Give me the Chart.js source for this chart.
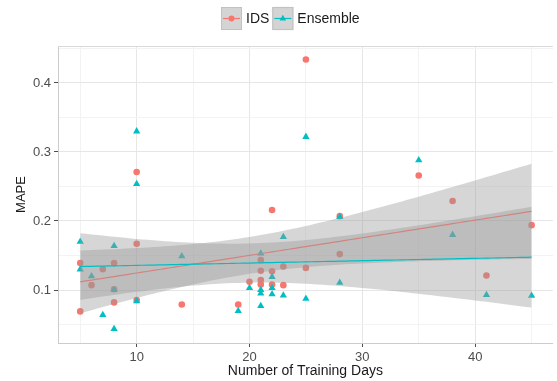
<!DOCTYPE html>
<html>
<head>
<meta charset="utf-8">
<script src="https://cdn.jsdelivr.net/npm/chart.js@4"></script>
<style>
  html, body { margin: 0; padding: 0; background: #fff; overflow: hidden; }
  #chart { display: block; }
</style>
</head>
<body>
<canvas id="chart" width="557" height="381"></canvas>
<script>
const SERIES = ['IDS', 'Ensemble'];
const DAYS = [5, 5, 6, 7, 8, 8, 8, 10, 10, 10, 14, 19, 20, 21, 21, 21, 21, 22, 22, 22, 23, 23, 25, 25, 28, 28, 35, 38, 41, 45];
const IDS_MAPE = [0.139, 0.069, 0.107, 0.130, 0.139, 0.101, 0.082, 0.271, 0.167, 0.0855, 0.079, 0.079, 0.112, 0.1435, 0.128, 0.1145, 0.108, 0.216, 0.127, 0.108, 0.134, 0.107, 0.434, 0.132, 0.207, 0.152, 0.266, 0.229, 0.121, 0.194];
const ENS_MAPE = [0.170, 0.130, 0.120, 0.064, 0.164, 0.100, 0.0435, 0.330, 0.2536, 0.084, 0.149, 0.0696, 0.103, 0.153, 0.100, 0.095, 0.077, 0.119, 0.103, 0.094, 0.177, 0.092, 0.322, 0.0874, 0.206, 0.1106, 0.288, 0.180, 0.093, 0.0917];
const X_TICKS = [5, 10, 15, 20, 25, 30, 35, 40, 45];
const Y_TICKS = [0.05, 0.1, 0.15, 0.2, 0.25, 0.3, 0.35, 0.4, 0.45];

const COLORS = { IDS: '#F8766D', Ensemble: '#00BFC4' };
const BAND = 'rgba(153,153,153,0.4)';
const FONT = '"Liberation Sans", Arial, Helvetica, sans-serif';
const T975 = 2.048; // t quantile, df = 28

// linear fit with 95% confidence band, like geom_smooth(method = "lm")
function lmBand(xs, ys) {
  const n = xs.length;
  const mx = xs.reduce((a, b) => a + b, 0) / n;
  const my = ys.reduce((a, b) => a + b, 0) / n;
  let sxx = 0, sxy = 0;
  xs.forEach((x, i) => { sxx += (x - mx) ** 2; sxy += (x - mx) * (ys[i] - my); });
  const b = sxy / sxx, a = my - b * mx;
  let sse = 0;
  xs.forEach((x, i) => { sse += (ys[i] - a - b * x) ** 2; });
  const s = Math.sqrt(sse / (n - 2));
  const lo = Math.min(...xs), hi = Math.max(...xs);
  const fit = [], upper = [], lower = [];
  for (let k = 0; k <= 80; k++) {
    const x = lo + (hi - lo) * k / 80;
    const y = a + b * x;
    const se = s * Math.sqrt(1 / n + (x - mx) ** 2 / sxx);
    fit.push({ x, y });
    upper.push({ x, y: y + T975 * se });
    lower.push({ x, y: y - T975 * se });
  }
  return { fit, upper, lower };
}

const idsFit = lmBand(DAYS, IDS_MAPE);
const ensFit = lmBand(DAYS, ENS_MAPE);
const pts = ys => DAYS.map((x, i) => ({ x, y: ys[i] }));

const lineDs = (data, color) => ({ data, showLine: true, borderColor: color, borderWidth: 1.2, pointRadius: 0, fill: false });
const bandDs = (data, fill) => ({ data, showLine: true, borderColor: 'transparent', borderWidth: 1, pointRadius: 0, backgroundColor: BAND, fill });

const isMajor = v => Math.abs(v * 10 - Math.round(v * 10)) < 1e-6 && Math.round(v * 100) % 10 === 0;

const ggLegend = {
  id: 'ggLegend',
  beforeDatasetsDraw(chart) {
    const { ctx, chartArea } = chart;
    ctx.save();
    ctx.strokeStyle = '#d9d9d9';
    ctx.lineWidth = 1;
    ctx.beginPath();
    ctx.moveTo(chartArea.left, chartArea.top + 0.5);
    ctx.lineTo(chartArea.right, chartArea.top + 0.5);
    ctx.stroke();
    ctx.restore();
  },
  afterDraw(chart) {
    const ctx = chart.ctx;
    ctx.save();
    ctx.font = '14px ' + FONT;
    ctx.textBaseline = 'middle';
    let x = 221;
    const y = 7, w = 21, h = 23, cy = y + h / 2;
    SERIES.forEach(name => {
      const c = COLORS[name];
      ctx.fillStyle = '#d4d4d4';
      ctx.fillRect(x, y, w, h);
      ctx.strokeStyle = '#c2c2c2';
      ctx.strokeRect(x + 0.5, y + 0.5, w - 1, h - 1);
      ctx.strokeStyle = c;
      ctx.lineWidth = 1.2;
      ctx.beginPath();
      ctx.moveTo(x + 2, cy);
      ctx.lineTo(x + w - 2, cy);
      ctx.stroke();
      ctx.fillStyle = c;
      ctx.beginPath();
      if (name === 'IDS') {
        ctx.arc(x + w / 2, cy, 3, 0, Math.PI * 2);
      } else {
        const r = 3.8;
        ctx.moveTo(x + w / 2, cy - r);
        ctx.lineTo(x + w / 2 + r * 0.866, cy + r / 2);
        ctx.lineTo(x + w / 2 - r * 0.866, cy + r / 2);
        ctx.closePath();
      }
      ctx.fill();
      ctx.fillStyle = '#1a1a1a';
      ctx.fillText(name, x + w + 4, cy + 0.5);
      x += w + 4 + ctx.measureText(name).width + 3;
    });
    ctx.restore();
  }
};

new Chart(document.getElementById('chart'), {
  type: 'scatter',
  data: {
    datasets: [
      lineDs(ensFit.fit, COLORS.Ensemble),
      bandDs(ensFit.upper, '+1'),
      bandDs(ensFit.lower, false),
      lineDs(idsFit.fit, COLORS.IDS),
      bandDs(idsFit.upper, '+1'),
      bandDs(idsFit.lower, false),
      { label: 'Ensemble', data: pts(ENS_MAPE), pointStyle: 'triangle', pointRadius: 4.2, borderWidth: 0, backgroundColor: COLORS.Ensemble },
      { label: 'IDS', data: pts(IDS_MAPE), pointStyle: 'circle', pointRadius: 3.3, borderWidth: 0, backgroundColor: COLORS.IDS },
    ]
  },
  options: {
    responsive: false,
    devicePixelRatio: 1,
    animation: false,
    events: [],
    layout: { padding: { top: 46, right: 0, bottom: 0, left: 0 } },
    plugins: { legend: { display: false }, tooltip: { enabled: false } },
    scales: {
      x: {
        type: 'linear', min: 3.03, max: 46.88,
        afterBuildTicks: s => { s.ticks = X_TICKS.map(v => ({ value: v })); },
        afterFit: s => { s.height = 38; },
        grid: {
          color: c => c.tick && c.tick.value % 10 === 0 ? '#e6e6e6' : '#f3f3f3',
          tickColor: c => c.tick && c.tick.value % 10 === 0 ? '#4d4d4d' : 'transparent',
          tickLength: 4, lineWidth: 1
        },
        border: { color: '#cccccc' },
        ticks: {
          autoSkip: false, maxRotation: 0, padding: 3,
          color: '#4d4d4d', font: { family: FONT, size: 13 },
          callback: v => v % 10 === 0 ? String(v) : ''
        },
        title: { display: true, text: 'Number of Training Days', color: '#1a1a1a', font: { family: FONT, size: 14 }, padding: { top: 0, bottom: 1 } }
      },
      y: {
        type: 'linear', min: 0.0232, max: 0.4536,
        afterBuildTicks: s => { s.ticks = Y_TICKS.map(v => ({ value: v })); },
        afterFit: s => { s.width = 58; },
        grid: {
          color: c => c.tick && isMajor(c.tick.value) ? '#e6e6e6' : '#f3f3f3',
          tickColor: c => c.tick && isMajor(c.tick.value) ? '#4d4d4d' : 'transparent',
          tickLength: 4, lineWidth: 1
        },
        border: { color: '#cccccc' },
        ticks: {
          autoSkip: false, padding: 3,
          color: '#4d4d4d', font: { family: FONT, size: 13 },
          callback: v => isMajor(v) ? v.toFixed(1) : ''
        },
        title: { display: true, text: 'MAPE', color: '#1a1a1a', font: { family: FONT, size: 13 }, padding: { top: 14, bottom: 0 } }
      }
    }
  },
  plugins: [ggLegend]
});
</script>
</body>
</html>
